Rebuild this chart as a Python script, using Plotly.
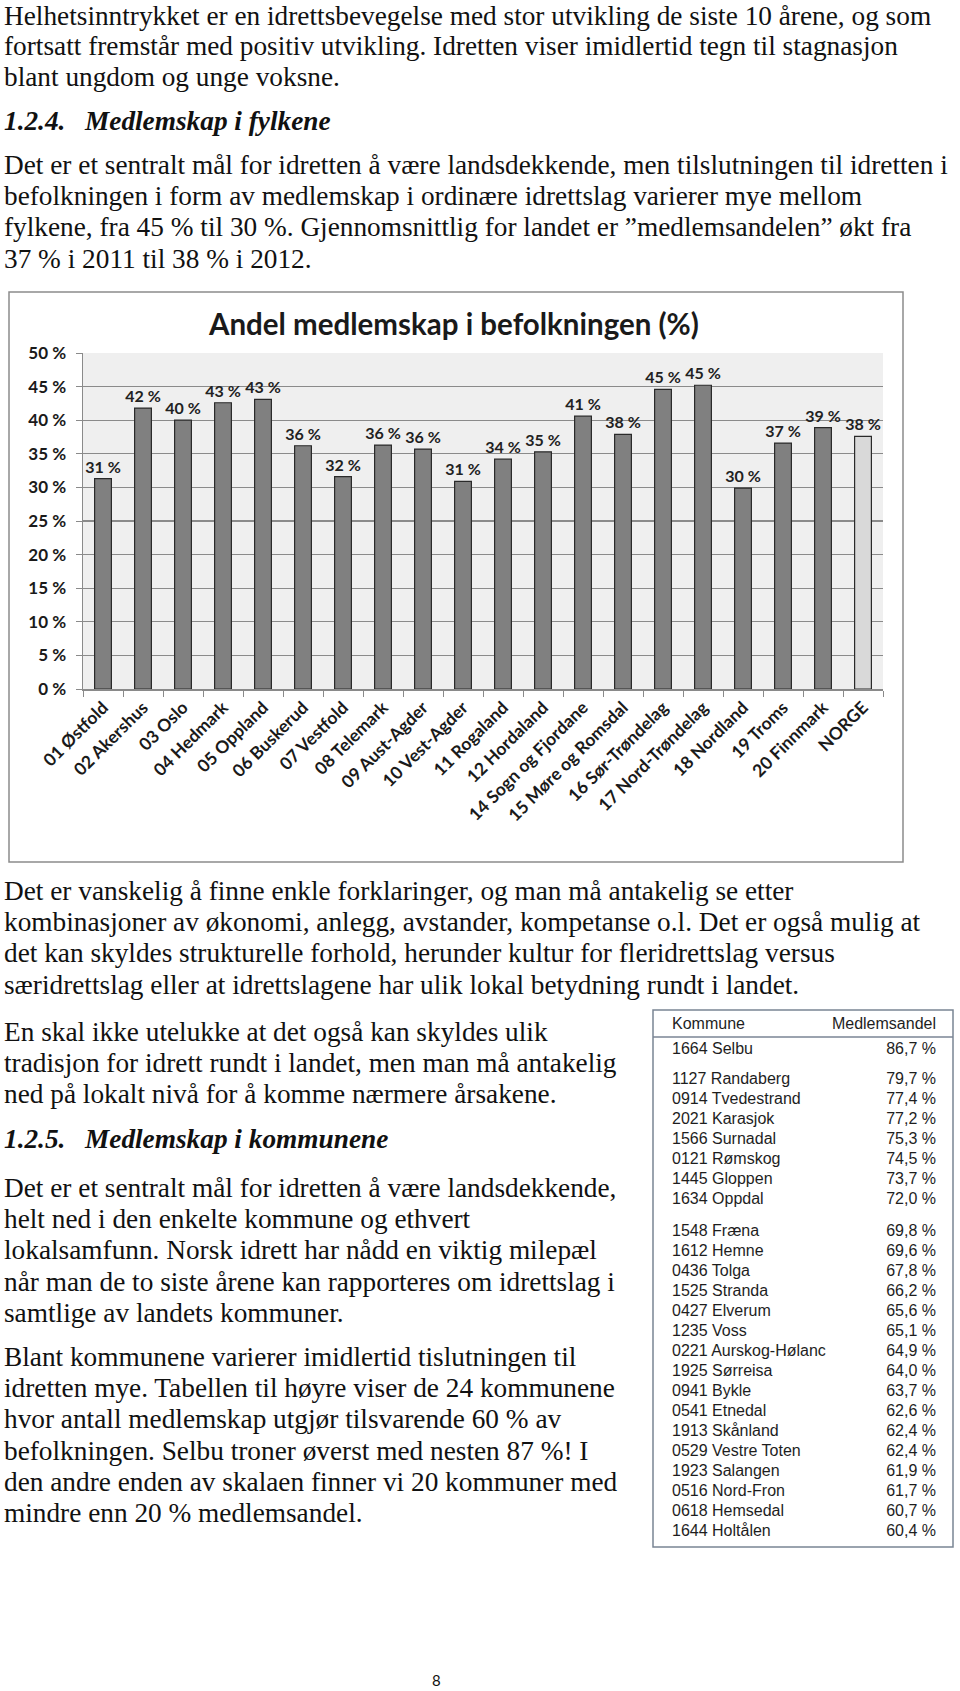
import plotly.graph_objects as go

W, H = 960, 1691

# ---------------- data ----------------
fylker = ["01 Østfold", "02 Akershus", "03 Oslo", "04 Hedmark", "05 Oppland",
          "06 Buskerud", "07 Vestfold", "08 Telemark", "09 Aust-Agder", "10 Vest-Agder",
          "11 Rogaland", "12 Hordaland", "14 Sogn og Fjordane", "15 Møre og Romsdal",
          "16 Sør-Trøndelag", "17 Nord-Trøndelag", "18 Nordland", "19 Troms",
          "20 Finnmark", "NORGE"]
andel = [31.3, 41.8, 40.0, 42.6, 43.1, 36.2, 31.6, 36.3, 35.7, 30.9,
         34.2, 35.3, 40.6, 37.9, 44.6, 45.2, 29.9, 36.6, 38.9, 37.6]
ytick_vals = [0, 5, 10, 15, 20, 25, 30, 35, 40, 45, 50]
ytick_text = ["0 %", "5 %", "10 %", "15 %", "20 %", "25 %", "30 %", "35 %", "40 %", "45 %", "50 %"]
chart_title = "Andel medlemskap i befolkningen (%)"

kommuner = ["1664 Selbu", "1127 Randaberg", "0914 Tvedestrand", "2021 Karasjok",
            "1566 Surnadal", "0121 Rømskog", "1445 Gloppen", "1634 Oppdal",
            "1548 Fræna", "1612 Hemne", "0436 Tolga", "1525 Stranda", "0427 Elverum",
            "1235 Voss", "0221 Aurskog-Hølanc", "1925 Sørreisa", "0941 Bykle",
            "0541 Etnedal", "1913 Skånland", "0529 Vestre Toten", "1923 Salangen",
            "0516 Nord-Fron", "0618 Hemsedal", "1644 Holtålen"]
medlemsandel = ["86,7 %", "79,7 %", "77,4 %", "77,2 %", "75,3 %", "74,5 %", "73,7 %",
                "72,0 %", "69,8 %", "69,6 %", "67,8 %", "66,2 %", "65,6 %", "65,1 %",
                "64,9 %", "64,0 %", "63,7 %", "62,6 %", "62,4 %", "62,4 %", "61,9 %",
                "61,7 %", "60,7 %", "60,4 %"]
table_groups = [1, 7, 16]  # rows per visual block in the table
table_header = ["Kommune", "Medlemsandel"]

para1 = ["Helhetsinntrykket er en idrettsbevegelse med stor utvikling de siste 10 årene, og som",
         "fortsatt fremstår med positiv utvikling. Idretten viser imidlertid tegn til stagnasjon",
         "blant ungdom og unge voksne."]
head1 = ("1.2.4.", "Medlemskap i fylkene")
para2 = ["Det er et sentralt mål for idretten å være landsdekkende, men tilslutningen til idretten i",
         "befolkningen i form av medlemskap i ordinære idrettslag varierer mye mellom",
         "fylkene, fra 45 % til 30 %. Gjennomsnittlig for landet er ”medlemsandelen” økt fra",
         "37 % i 2011 til 38 % i 2012."]
para3 = ["Det er vanskelig å finne enkle forklaringer, og man må antakelig se etter",
         "kombinasjoner av økonomi, anlegg, avstander, kompetanse o.l. Det er også mulig at",
         "det kan skyldes strukturelle forhold, herunder kultur for fleridrettslag versus",
         "særidrettslag eller at idrettslagene har ulik lokal betydning rundt i landet."]
para4 = ["En skal ikke utelukke at det også kan skyldes ulik",
         "tradisjon for idrett rundt i landet, men man må antakelig",
         "ned på lokalt nivå for å komme nærmere årsakene."]
head2 = ("1.2.5.", "Medlemskap i kommunene")
para5 = ["Det er et sentralt mål for idretten å være landsdekkende,",
         "helt ned i den enkelte kommune og ethvert",
         "lokalsamfunn. Norsk idrett har nådd en viktig milepæl",
         "når man de to siste årene kan rapporteres om idrettslag i",
         "samtlige av landets kommuner."]
para6 = ["Blant kommunene varierer imidlertid tislutningen til",
         "idretten mye. Tabellen til høyre viser de 24 kommunene",
         "hvor antall medlemskap utgjør tilsvarende 60 % av",
         "befolkningen. Selbu troner øverst med nesten 87 %! I",
         "den andre enden av skalaen finner vi 20 kommuner med",
         "mindre enn 20 % medlemsandel."]
page_no = "8"

# ---------------- helpers ----------------
def px(x):
    return x / W

def py(y):
    return 1 - y / H

SERIF = "Liberation Serif"
BODY = 27.3
LINE = 31.2

annotations = []

def para(lines, y0, step=LINE, x0=2):
    for i, t in enumerate(lines):
        annotations.append(dict(x=px(x0), y=py(y0 + i * step), xref="paper", yref="paper",
                                text=t, showarrow=False, xanchor="left", yanchor="middle",
                                font=dict(family=SERIF, size=BODY, color="#111")))

def heading(h, y0):
    for x0, t in [(2, h[0]), (82, h[1])]:
        annotations.append(dict(x=px(x0), y=py(y0), xref="paper", yref="paper",
                                text="<b><i>%s</i></b>" % t, showarrow=False,
                                xanchor="left", yanchor="middle",
                                font=dict(family=SERIF, size=BODY, color="#111")))

para(para1, 16, step=30.5)
heading(head1, 121)
para(para2, 165)
para(para3, 891)
para(para4, 1032)
heading(head2, 1139)
para(para5, 1188)
para(para6, 1357)

annotations.append(dict(x=px(436), y=py(1680), xref="paper", yref="paper", text=page_no,
                        showarrow=False, xanchor="center", yanchor="middle",
                        font=dict(family="Lato", size=15, color="#111")))

# chart title
annotations.append(dict(x=px(453), y=py(323), xref="paper", yref="paper", text="<b>%s</b>" % chart_title,
                        showarrow=False, xanchor="center", yanchor="middle",
                        font=dict(family="Lato", size=29.5, color="#1a1a1a")))

fig = go.Figure()

bar_colors = ["#d9d9d9" if f == "NORGE" else "#808080" for f in fylker]
fig.add_trace(go.Bar(
    x=fylker, y=andel,
    marker=dict(color=bar_colors, line=dict(color="#2a2a2a", width=1.2)),
    text=["%d %%" % round(v) for v in andel],
    textposition="outside", cliponaxis=False, constraintext="none",
    textfont=dict(family="Lato", size=16, color="#222", weight="bold"),
    xaxis="x", yaxis="y", showlegend=False, hoverinfo="skip"))

# table rows (x2/y2 axes, y in pixel units of the table block)
row_y = []
y = 1050.0
extra = [0, 10, 12]
for g, n in enumerate(table_groups):
    y += extra[g]
    for k in range(n):
        row_y.append(y)
        y += 20

tfont = dict(family="Liberation Sans", size=16, color="#1e1e1e")
fig.add_trace(go.Scatter(x=[672] * len(kommuner), y=row_y, text=kommuner, mode="text",
                         textposition="middle right", textfont=tfont, cliponaxis=False,
                         xaxis="x2", yaxis="y2", showlegend=False, hoverinfo="skip"))
fig.add_trace(go.Scatter(x=[936] * len(medlemsandel), y=row_y, text=medlemsandel, mode="text",
                         textposition="middle left", textfont=tfont, cliponaxis=False,
                         xaxis="x2", yaxis="y2", showlegend=False, hoverinfo="skip"))
fig.add_trace(go.Scatter(x=[672, 936], y=[1025, 1025], text=table_header, mode="text",
                         textposition=["middle right", "middle left"], textfont=tfont,
                         cliponaxis=False,
                         xaxis="x2", yaxis="y2", showlegend=False, hoverinfo="skip"))

shapes = [
    # plot-area background of the bar chart
    dict(type="rect", xref="x domain", yref="y domain", x0=0, x1=1, y0=0, y1=1,
         fillcolor="#efefef", line=dict(width=0), layer="below"),
    # chart frame
    dict(type="rect", xref="paper", yref="paper", x0=px(9), x1=px(903), y0=py(862), y1=py(292),
         line=dict(color="#8c8c8c", width=1.5), layer="above"),
    # table frame
    dict(type="rect", xref="paper", yref="paper", x0=px(653), x1=px(953), y0=py(1547), y1=py(1010),
         line=dict(color="#7a8594", width=1.5), layer="above"),
    dict(type="line", xref="paper", yref="paper", x0=px(653), x1=px(953), y0=py(1037), y1=py(1037),
         line=dict(color="#7a8594", width=1.3), layer="above"),
]

fig.update_layout(
    width=W, height=H, margin=dict(l=0, r=0, t=0, b=0, autoexpand=False),
    paper_bgcolor="white", plot_bgcolor="white",
    annotations=annotations, shapes=shapes, bargap=0.58,
    xaxis=dict(domain=[px(83), px(883)], anchor="y", type="category", automargin=False,
               tickangle=-45, ticks="outside", tickson="boundaries", ticklen=6,
               tickcolor="#8a8a8a", showline=True, linecolor="#8a8a8a", linewidth=1.5,
               tickfont=dict(family="Lato", size=17.5, color="#1a1a1a", weight="bold"),
               showgrid=False, fixedrange=True),
    yaxis=dict(domain=[py(689), py(353)], anchor="x", range=[0, 50], automargin=False,
               tickvals=ytick_vals, ticktext=ytick_text, ticks="outside", ticklen=6,
               tickcolor="#8a8a8a", showline=True, linecolor="#8a8a8a", linewidth=1.5,
               gridcolor="#8a8a8a", gridwidth=1.3, zeroline=False, ticklabelstandoff=6,
               tickfont=dict(family="Lato", size=17, color="#1a1a1a", weight="bold"),
               fixedrange=True),
    xaxis2=dict(domain=[0, 1], anchor="y2", range=[0, W], visible=False, fixedrange=True,
                automargin=False),
    yaxis2=dict(domain=[py(1560), py(1000)], anchor="x2", range=[1560, 1000], visible=False,
                fixedrange=True, automargin=False),
)

fig.write_html("out.html", config={"displayModeBar": False, "staticPlot": True},
               post_script="document.body.style.margin='0';document.body.style.overflow='hidden';")
